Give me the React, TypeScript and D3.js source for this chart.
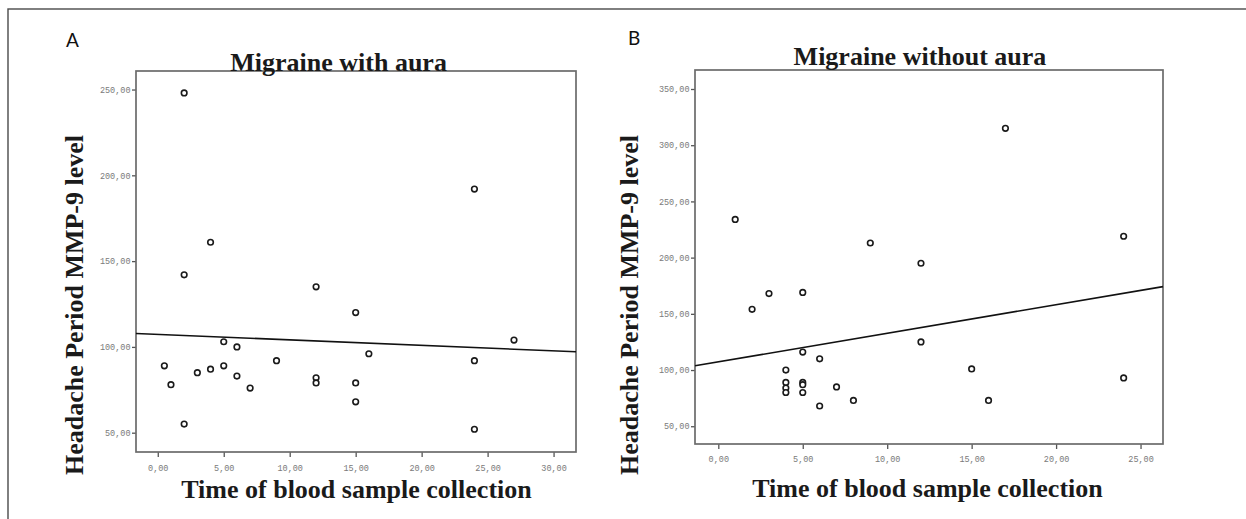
import { useEffect, useRef } from 'react'
import * as d3 from 'd3'

const W = 1246
const H = 519

// Panel A — migraine with aura (hours, MMP-9)
const auraHours = [0.5, 1, 2, 2, 2, 3, 4, 4, 5, 5, 6, 6, 7, 9, 12, 12, 12, 15, 15, 15, 16, 24, 24, 24, 27]
const auraLevel = [89, 78, 248, 142, 55, 85, 161, 87, 103, 89, 100, 83, 76, 92, 135, 82, 79, 120, 79, 68, 96, 192, 92, 52, 104]
const auraXTicks = [0, 5, 10, 15, 20, 25, 30]
const auraYTicks = [50, 100, 150, 200, 250]
const auraFit = { intercept: 107.3, slope: -0.32 }

// Panel B — migraine without aura
const noAuraHours = [1, 2, 3, 4, 4, 4, 4, 5, 5, 5, 5, 5, 6, 6, 7, 8, 9, 12, 12, 15, 16, 17, 24, 24]
const noAuraLevel = [234, 154, 168, 100, 89, 84, 80, 169, 116, 89, 87, 80, 110, 68, 85, 73, 213, 195, 125, 101, 73, 315, 219, 93]
const noAuraXTicks = [0, 5, 10, 15, 20, 25]
const noAuraYTicks = [50, 100, 150, 200, 250, 300, 350]
const noAuraFit = { intercept: 107.3, slope: 2.54 }

const SERIF = '"Liberation Serif", "Times New Roman", serif'
const fmt = (d: number) => d3.format('.2f')(d).replace('.', ',')

const PANELS = [
  {
    letter: 'A', letterX: 66, letterY: 47,
    title: 'Migraine with aura', titleX: 338.6, titleY: 71,
    xs: auraHours, ys: auraLevel, xTicks: auraXTicks, yTicks: auraYTicks, fit: auraFit,
    left: 136, right: 576, top: 71, bottom: 452,
    xDomain: [-1.65, 31.7], yDomain: [38.75, 260.8],
    xLabelX: 356.5, xLabelY: 498, yLabelX: 83, yLabelY: 305, tickPad: 8,
  },
  {
    letter: 'B', letterX: 628, letterY: 45,
    title: 'Migraine without aura', titleX: 920, titleY: 65,
    xs: noAuraHours, ys: noAuraLevel, xTicks: noAuraXTicks, yTicks: noAuraYTicks, fit: noAuraFit,
    left: 695, right: 1163, top: 70, bottom: 444,
    xDomain: [-1.38, 26.33], yDomain: [34.2, 366.9],
    xLabelX: 927.5, xLabelY: 497, yLabelX: 638, yLabelY: 305, tickPad: 7,
  },
]

export default function App() {
  const svgRef = useRef<SVGSVGElement>(null)

  useEffect(() => {
    if (!svgRef.current) return
    const svg = d3.select(svgRef.current)
    svg.selectAll('*').remove()

    svg.append('rect').attr('width', W).attr('height', H).attr('fill', '#fff')

    // outer figure border (runs off the right / bottom edge)
    svg.append('rect')
      .attr('x', 8).attr('y', 9).attr('width', 1400).attr('height', 700)
      .attr('fill', 'none').attr('stroke', '#4a4a4a').attr('stroke-width', 1.4)

    PANELS.forEach(p => {
      const x = d3.scaleLinear().domain(p.xDomain).range([p.left, p.right])
      const y = d3.scaleLinear().domain(p.yDomain).range([p.bottom, p.top])
      const g = svg.append('g')

      // panel letter
      g.append('text')
        .attr('x', p.letterX).attr('y', p.letterY)
        .attr('font-family', 'Lato, "Open Sans", sans-serif')
        .attr('font-size', 19).attr('fill', '#111')
        .text(p.letter)

      // x axis
      g.append('g')
        .attr('transform', `translate(0,${p.bottom})`)
        .call(d3.axisBottom(x).tickValues(p.xTicks).tickSize(5).tickPadding(p.tickPad).tickFormat(d => fmt(+d)))
        .call(ax => ax.select('.domain').remove())
        .call(ax => ax.selectAll('.tick line').attr('stroke', '#555').attr('stroke-width', 1.3))
        .call(ax => ax.selectAll('text')
          .attr('fill', '#7a7a7a').attr('font-size', 8.5)
          .attr('font-family', '"Liberation Mono", "DejaVu Sans Mono", monospace'))

      // y axis
      g.append('g')
        .attr('transform', `translate(${p.left},0)`)
        .call(d3.axisLeft(y).tickValues(p.yTicks).tickSize(4).tickPadding(1.5).tickFormat(d => fmt(+d)))
        .call(ax => ax.select('.domain').remove())
        .call(ax => ax.selectAll('.tick line').attr('stroke', '#555').attr('stroke-width', 1.3))
        .call(ax => ax.selectAll('text')
          .attr('fill', '#7a7a7a').attr('font-size', 8.5)
          .attr('font-family', '"Liberation Mono", "DejaVu Sans Mono", monospace'))

      // plot frame
      g.append('rect')
        .attr('x', p.left).attr('y', p.top)
        .attr('width', p.right - p.left).attr('height', p.bottom - p.top)
        .attr('fill', 'none').attr('stroke', '#6b6b6b').attr('stroke-width', 1.7)

      // fit line
      const [x0, x1] = x.domain()
      const line = d3.line<number>().x(d => x(d)).y(d => y(p.fit.intercept + p.fit.slope * d))
      g.append('path')
        .attr('d', line([x0, x1]))
        .attr('fill', 'none').attr('stroke', '#111').attr('stroke-width', 1.6)

      // points
      g.selectAll('.pt')
        .data(p.xs.map((v, i) => [v, p.ys[i]]))
        .enter().append('circle')
        .attr('cx', d => x(d[0])).attr('cy', d => y(d[1]))
        .attr('r', 2.8)
        .attr('fill', '#fff').attr('stroke', '#1a1a1a').attr('stroke-width', 1.6)

      // title
      g.append('text')
        .attr('x', p.titleX).attr('y', p.titleY)
        .attr('text-anchor', 'middle')
        .attr('font-family', SERIF).attr('font-weight', 'bold')
        .attr('font-size', 26).attr('fill', '#1a1a1a')
        .text(p.title)

      // axis titles
      g.append('text')
        .attr('x', p.xLabelX).attr('y', p.xLabelY)
        .attr('text-anchor', 'middle')
        .attr('font-family', SERIF).attr('font-weight', 'bold')
        .attr('font-size', 26).attr('fill', '#1a1a1a')
        .text('Time of blood sample collection')

      g.append('text')
        .attr('transform', `translate(${p.yLabelX},${p.yLabelY}) rotate(-90)`)
        .attr('text-anchor', 'middle')
        .attr('font-family', SERIF).attr('font-weight', 'bold')
        .attr('font-size', 26).attr('fill', '#1a1a1a')
        .text('Headache Period MMP-9 level')
    })
  }, [])

  return (
    <div style={{ position: 'absolute', left: 0, top: 0 }}>
      <svg ref={svgRef} width={W} height={H} style={{ display: 'block' }} />
    </div>
  )
}
